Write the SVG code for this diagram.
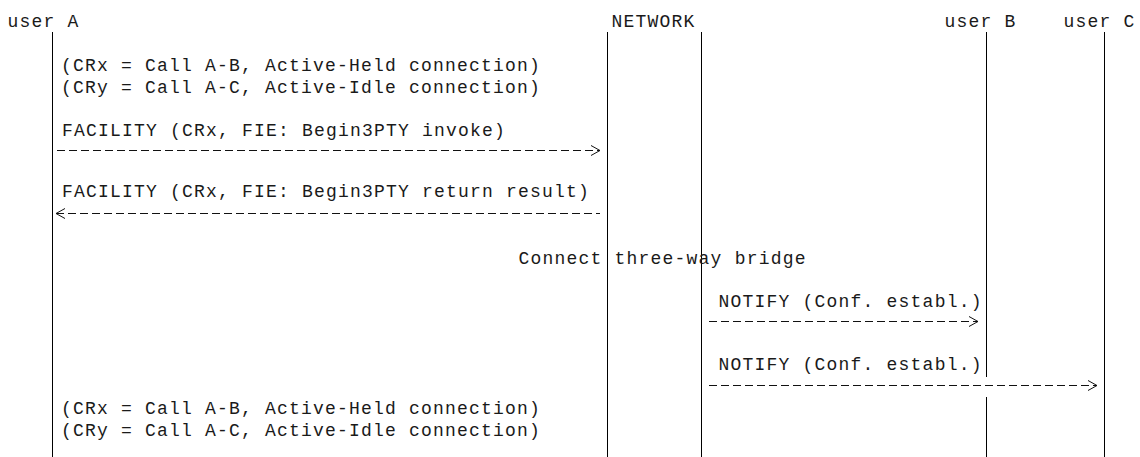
<svg xmlns="http://www.w3.org/2000/svg" width="1140" height="457" viewBox="0 0 1140 457">
<style>
text{font-family:"Liberation Mono","Courier New",monospace;font-size:18px;letter-spacing:1.2px;fill:#1a1a1a;}
.life{stroke:#000;stroke-width:1;fill:none;}
.msg{stroke:#111;stroke-width:1;stroke-dasharray:8 4;fill:none;}
</style>
<defs>
<marker id="head" markerUnits="userSpaceOnUse" markerWidth="12" markerHeight="12" refX="10" refY="6" orient="auto-start-reverse">
<path d="M1,1 L10,6 L1,11" fill="none" stroke="#111" stroke-width="1"/>
</marker>
</defs>
<rect width="1140" height="457" fill="#fff"/>
<g id="userA">
<text x="7.6" y="27">user A</text>
<line class="life" x1="52.5" y1="32" x2="52.5" y2="457"/>
</g>
<g id="network">
<text x="611.6" y="27">NETWORK</text>
<line class="life" x1="607.5" y1="32" x2="607.5" y2="457"/>
<line class="life" x1="701.5" y1="32" x2="701.5" y2="457"/>
</g>
<g id="userB">
<text x="944.6" y="27">user B</text>
<line class="life" x1="986.5" y1="32" x2="986.5" y2="377"/>
<line class="life" x1="986.5" y1="397" x2="986.5" y2="457"/>
</g>
<g id="userC">
<text x="1063.6" y="27">user C</text>
<line class="life" x1="1104.5" y1="32" x2="1104.5" y2="457"/>
</g>
<g id="note-top">
<text x="61" y="71">(CRx = Call A-B, Active-Held connection)</text>
<text x="61" y="93">(CRy = Call A-C, Active-Idle connection)</text>
</g>
<g id="note-bridge">
<text x="518.6" y="264">Connect three-way bridge</text>
</g>
<g id="note-bottom">
<text x="61" y="414">(CRx = Call A-B, Active-Held connection)</text>
<text x="61" y="436">(CRy = Call A-C, Active-Idle connection)</text>
</g>
<g id="connectors">
<g id="m1">
<text x="62" y="136">FACILITY (CRx, FIE: Begin3PTY invoke)</text>
<line class="msg" x1="57" y1="150.5" x2="600" y2="150.5" marker-end="url(#head)"/>
</g>
<g id="m2">
<text x="62" y="197">FACILITY (CRx, FIE: Begin3PTY return result)</text>
<line class="msg" x1="56" y1="213.5" x2="600" y2="213.5" marker-start="url(#head)"/>
</g>
<g id="m3">
<text x="718.6" y="307">NOTIFY (Conf. establ.)</text>
<line class="msg" x1="709" y1="321.5" x2="978" y2="321.5" marker-end="url(#head)"/>
</g>
<g id="m4">
<text x="718.6" y="370">NOTIFY (Conf. establ.)</text>
<line class="msg" x1="709" y1="385.5" x2="1097" y2="385.5" marker-end="url(#head)"/>
</g>
</g>
</svg>
